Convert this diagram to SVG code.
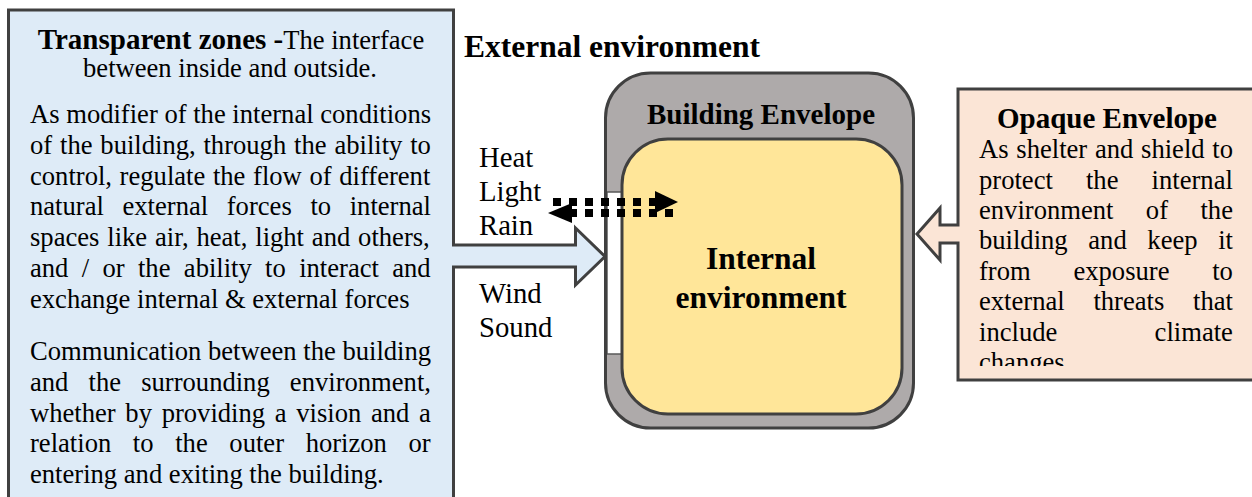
<svg xmlns="http://www.w3.org/2000/svg" width="1252" height="497" viewBox="0 0 1252 497">
<style>
.t{font-family:"Liberation Serif","Times New Roman",serif;fill:#000}
.b{font-weight:bold}
.body{font-size:26.6px}
.hd{font-size:29px;font-weight:bold}
.lab{font-size:28.7px}
.big{font-size:31.5px;font-weight:bold}
.shape{stroke:#404040;stroke-width:3;stroke-linejoin:miter}
</style>
<defs>
<clipPath id="clipO"><rect x="958" y="89" width="300" height="277"/></clipPath>
</defs>
<rect width="1252" height="497" fill="#fff"/>

<g id="node-transparent">
<path class="shape" fill="#deebf7" d="M8.5,10 H453.5 V245 H575.5 V228 L605,256.5 L575.5,285 V267 H453.5 V512 H8.5 Z"/>
<text class="t body" x="231" y="49" text-anchor="middle"><tspan class="hd">Transparent zones -</tspan>The interface</text>
<text class="t body" x="230" y="77" text-anchor="middle">between inside and outside.</text>
<text class="t body" x="30" y="123">As modifier of the internal conditions</text>
<text class="t body" x="30" y="153.8" word-spacing="1.2">of the building, through the ability to</text>
<text class="t body" x="30" y="184.6" word-spacing="1">control, regulate the flow of different</text>
<text class="t body" x="30" y="215.4" word-spacing="12">natural external forces to internal</text>
<text class="t body" x="30" y="246.2" word-spacing="1.2">spaces like air, heat, light and others,</text>
<text class="t body" x="30" y="277" word-spacing="6.7">and / or the ability to interact and</text>
<text class="t body" x="30" y="307.8">exchange internal &amp; external forces</text>
<text class="t body" x="30" y="360">Communication between the building</text>
<text class="t body" x="30" y="390.8" word-spacing="13.5">and the surrounding environment,</text>
<text class="t body" x="30" y="421.6" word-spacing="3.05">whether by providing a vision and a</text>
<text class="t body" x="30" y="452.4" word-spacing="15">relation to the outer horizon or</text>
<text class="t body" x="30" y="483.2">entering and exiting the building.</text>
</g>

<text id="title-external" class="t big" x="464" y="57">External environment</text>

<g id="node-building">
<rect class="shape" x="605.5" y="73" width="308" height="355" rx="45" ry="45" fill="#aeaaaa"/>
<rect x="607" y="192" width="15" height="162" fill="#fff" stroke="#595959" stroke-width="1.5"/>
<line x1="605.5" y1="190" x2="605.5" y2="356" stroke="#404040" stroke-width="3"/>
<text class="t hd" x="761" y="124" text-anchor="middle">Building Envelope</text>
</g>

<g id="node-internal">
<rect class="shape" x="622" y="139" width="280" height="275" rx="46" ry="46" fill="#ffe699"/>
<text class="t big" x="761" y="269" text-anchor="middle">Internal</text>
<text class="t big" x="761" y="308" text-anchor="middle">environment</text>
</g>

<g id="node-opaque">
<path class="shape" fill="#fbe5d6" d="M1262,89 H958 V225 H940 V208 L917,234 L940,260 V243 H958 V380 H1262"/>
<text class="t hd" x="1107" y="128" text-anchor="middle">Opaque Envelope</text>
<g clip-path="url(#clipO)">
<text class="t body" x="979" y="158" word-spacing="1.1">As shelter and shield to</text>
<text class="t body" x="979" y="188.5" word-spacing="26.5">protect the internal</text>
<text class="t body" x="979" y="219" word-spacing="25.8">environment of the</text>
<text class="t body" x="979" y="249.3" word-spacing="14">building and keep it</text>
<text class="t body" x="979" y="279.8" word-spacing="36.1">from exposure to</text>
<text class="t body" x="979" y="310.2" word-spacing="22.1">external threats that</text>
<text class="t body" x="979" y="340.7" word-spacing="90.7">include climate</text>
<text class="t body" x="979" y="371.2">changes</text>
</g>
</g>

<g id="labels">
<text class="t lab" x="479" y="167">Heat</text>
<text class="t lab" x="479" y="201">Light</text>
<text class="t lab" x="479" y="235">Rain</text>
<text class="t lab" x="479" y="303">Wind</text>
<text class="t lab" x="479" y="337">Sound</text>
</g>

<g id="connectors">
<line x1="553" y1="202" x2="656" y2="202" stroke="#000" stroke-width="8" stroke-dasharray="8 8"/>
<polygon points="655,191 678,202 655,213" fill="#000"/>
<line x1="673" y1="213" x2="570" y2="213" stroke="#000" stroke-width="8" stroke-dasharray="8 8"/>
<polygon points="572,203 548,213 572,223" fill="#000"/>
</g>
</svg>
